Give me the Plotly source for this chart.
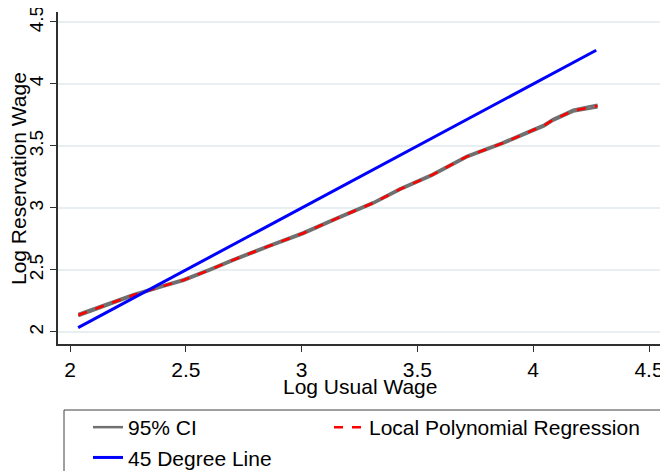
import plotly.graph_objects as go

# Data
log_usual_wage = [2.036, 2.147, 2.274, 2.40, 2.491, 2.602, 2.703, 2.855, 3.006, 3.157, 3.309, 3.425, 3.562, 3.713, 3.865, 3.996, 4.047, 4.087, 4.138, 4.173, 4.229, 4.278]
lpr_fit = [2.137, 2.215, 2.298, 2.37, 2.419, 2.50, 2.58, 2.69, 2.796, 2.92, 3.04, 3.151, 3.265, 3.414, 3.52, 3.625, 3.665, 3.712, 3.758, 3.785, 3.805, 3.822]
ci_halfwidth = [0.008, 0.007, 0.006, 0.006, 0.006, 0.006, 0.006, 0.006, 0.006, 0.006, 0.006, 0.006, 0.006, 0.006, 0.006, 0.007, 0.007, 0.007, 0.008, 0.008, 0.009, 0.01]
ci_lower = [f - h for f, h in zip(lpr_fit, ci_halfwidth)]
ci_upper = [f + h for f, h in zip(lpr_fit, ci_halfwidth)]
line45_x = [2.035, 4.272]
line45_y = [2.035, 4.272]

x_ticks = [2, 2.5, 3, 3.5, 4, 4.5]
y_ticks = [2, 2.5, 3, 3.5, 4, 4.5]

FONT = "Liberation Sans, Arial, sans-serif"
OFF = 8  # page body margin
W, H = 660, 463
L, R, T, B = 50, 8, 4, 127
PW, PH = W - L - R, H - T - B


def px_x(px):
    return (px - OFF - L) / PW


def px_y(py):
    return (H - B - (py - OFF)) / PH


fig = go.Figure()

fig.add_trace(go.Scatter(x=log_usual_wage, y=ci_upper, mode="lines",
                         line=dict(color="#707070", width=2.5), name="95% CI",
                         legend="legend"))
fig.add_trace(go.Scatter(x=log_usual_wage, y=ci_lower, mode="lines",
                         line=dict(color="#707070", width=2.5), name="95% CI",
                         showlegend=False))
fig.add_trace(go.Scatter(x=log_usual_wage, y=lpr_fit, mode="lines",
                         line=dict(color="#ff0000", width=2.5, dash="dash"),
                         name="Local Polynomial Regression", legend="legend2"))
fig.add_trace(go.Scatter(x=line45_x, y=line45_y, mode="lines",
                         line=dict(color="#0000ff", width=3),
                         name="45 Degree Line", legend="legend"))

leg_font = dict(family=FONT, size=21, color="black")
fig.update_layout(
    width=W, height=H,
    margin=dict(l=L, r=R, t=T, b=B, autoexpand=False),
    paper_bgcolor="white", plot_bgcolor="white",
    font=dict(family=FONT, size=21, color="black"),
    showlegend=True,
    legend=dict(orientation="v", x=px_x(88), xanchor="left", y=px_y(407), yanchor="top",
                bgcolor="rgba(0,0,0,0)", borderwidth=0, font=leg_font,
                traceorder="normal", tracegroupgap=0),
    legend2=dict(orientation="v", x=px_x(329), xanchor="left", y=px_y(407), yanchor="top",
                 bgcolor="rgba(0,0,0,0)", borderwidth=0, font=leg_font,
                 traceorder="normal", tracegroupgap=0),
    xaxis=dict(range=[1.948, 4.5475], tickvals=x_ticks,
               ticktext=[f"{v:g}" for v in x_ticks], automargin=False,
               ticklabeloverflow="allow",
               showgrid=False, zeroline=False,
               showline=True, linecolor="#303030", linewidth=1.5,
               ticks="outside", ticklen=6, tickcolor="#303030", tickwidth=1.2,
               tickfont=dict(family=FONT, size=21, color="black")),
    yaxis=dict(range=[1.903, 4.58], tickvals=y_ticks,
               ticktext=[f"{v:g}" for v in y_ticks], automargin=False,
               ticklabeloverflow="allow",
               tickangle=-90,
               showgrid=True, gridcolor="#e8eff2", gridwidth=1.5,
               zeroline=False,
               showline=True, linecolor="#303030", linewidth=1.5,
               ticks="outside", ticklen=6, tickcolor="#303030", tickwidth=1.2,
               tickfont=dict(family=FONT, size=19, color="black")),
    shapes=[
        dict(type="rect", xref="paper", yref="paper",
             x0=px_x(64), x1=px_x(666), y0=px_y(410), y1=px_y(490),
             line=dict(color="#404040", width=1), fillcolor="rgba(0,0,0,0)"),
    ],
    annotations=[
        dict(text="Log Usual Wage", xref="paper", yref="paper",
             x=px_x(360), y=px_y(386), xanchor="center", yanchor="middle",
             showarrow=False, font=dict(family=FONT, size=21, color="black")),
        dict(text="Log Reservation Wage", xref="paper", yref="paper",
             x=px_x(18), y=px_y(179), xanchor="center", yanchor="middle", textangle=-90,
             showarrow=False, font=dict(family=FONT, size=21, color="black")),
    ],
)

fig.write_html("out.html")
